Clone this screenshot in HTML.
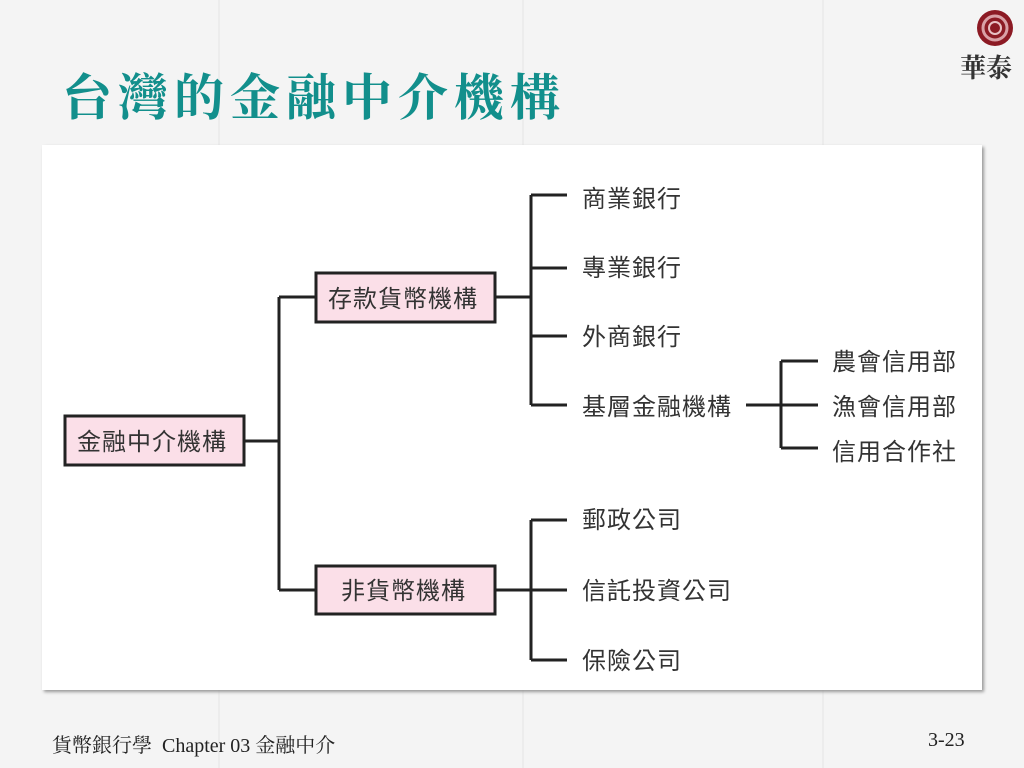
<!DOCTYPE html>
<html><head><meta charset="utf-8"><style>
html,body{margin:0;padding:0;width:1024px;height:768px;overflow:hidden;background:#f4f4f4;}
body{position:relative;font-family:"Liberation Sans","Noto Sans CJK TC",sans-serif;}
.col{position:absolute;top:0;height:768px;width:2px;background:#ececec;}
.title{position:absolute;left:62px;top:66px;font-family:"Liberation Serif","Noto Serif CJK SC",serif;font-weight:bold;font-size:50px;color:#128f8c;letter-spacing:6px;line-height:1.3;}
.panel{position:absolute;left:42px;top:145px;width:940px;height:545px;background:#fff;box-shadow:2px 2px 3px #999;}
.foot{position:absolute;top:729px;font-family:"Liberation Serif","Noto Serif CJK SC",serif;font-size:20px;color:#222;}
</style></head><body>
<div class="col" style="left:218px"></div><div class="col" style="left:522px"></div><div class="col" style="left:822px"></div><div class="col" style="left:1120px"></div>
<div class="title">台灣的金融中介機構</div>
<svg style="position:absolute;left:975px;top:8px" width="44" height="44"><circle cx="20" cy="20" r="18" fill="#8c1a24"/><circle cx="20" cy="20" r="12" fill="none" stroke="#d9a0a6" stroke-width="3"/><circle cx="20" cy="20" r="6" fill="none" stroke="#e8c0c4" stroke-width="2"/></svg>
<div style="position:absolute;left:960px;top:48px;font-family:'Noto Serif CJK SC',serif;font-size:26px;font-weight:bold;color:#333;">華泰</div>
<div class="panel"></div>
<svg style="position:absolute;left:0;top:0" width="1024" height="768">
<g stroke="#222" stroke-width="3" fill="none">
<path d="M244 441H279M279 297V590M279 297H315M279 590H315"/>
<path d="M495 297H531M531 195V405M531 195H567M531 268H567M531 336H567M531 405H567"/>
<path d="M495 590H567M531 520V660M531 520H567M531 660H567"/>
<path d="M746 405H818M781 361V448M781 361H818M781 448H818"/>
</g>
<g fill="#fbdfe8" stroke="#222" stroke-width="3">
<rect x="65" y="416" width="179" height="49"/>
<rect x="316" y="273" width="179" height="49"/>
<rect x="316" y="566" width="179" height="48"/>
</g>
<g font-family="Liberation Sans, Noto Sans CJK TC, sans-serif" font-size="24" fill="#333" letter-spacing="1">
<text x="77" y="450">金融中介機構</text>
<text x="328" y="307">存款貨幣機構</text>
<text x="341" y="599">非貨幣機構</text>
<text x="582" y="207">商業銀行</text>
<text x="582" y="276">專業銀行</text>
<text x="582" y="345">外商銀行</text>
<text x="582" y="415">基層金融機構</text>
<text x="832" y="370">農會信用部</text>
<text x="832" y="415">漁會信用部</text>
<text x="832" y="460">信用合作社</text>
<text x="582" y="528">郵政公司</text>
<text x="582" y="599">信託投資公司</text>
<text x="582" y="669">保險公司</text>
</g>
</svg>
<div class="foot" style="left:52px">貨幣銀行學&nbsp;&nbsp;Chapter 03 金融中介</div>
<div class="foot" style="left:928px">3-23</div>
</body></html>
